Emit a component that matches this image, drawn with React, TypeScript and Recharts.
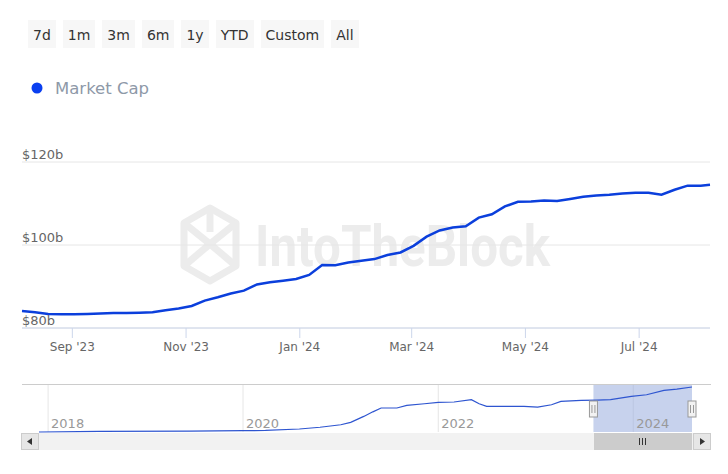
import React from 'react';
import {
  LineChart, Line, XAxis, YAxis, CartesianGrid, ReferenceArea, ReferenceLine,
} from 'recharts';

const FONT = '"DejaVu Sans", Verdana, sans-serif';

const RANGE_BUTTONS = ['7d', '1m', '3m', '6m', '1y', 'YTD', 'Custom', 'All'];
const SERIES_NAME = 'Market Cap';
const WATERMARK = 'IntoTheBlock';

// main chart: weekly readings, $ billions
const MAIN_DATES = [
  '2023-08-05', '2023-08-12', '2023-08-19', '2023-08-26',
  '2023-09-02', '2023-09-09', '2023-09-16', '2023-09-23', '2023-09-30',
  '2023-10-07', '2023-10-14', '2023-10-21', '2023-10-28',
  '2023-11-04', '2023-11-11', '2023-11-18', '2023-11-25',
  '2023-12-02', '2023-12-09', '2023-12-16', '2023-12-23', '2023-12-30',
  '2024-01-06', '2024-01-13', '2024-01-20', '2024-01-27',
  '2024-02-03', '2024-02-10', '2024-02-17', '2024-02-24',
  '2024-03-02', '2024-03-09', '2024-03-16', '2024-03-23', '2024-03-30',
  '2024-04-06', '2024-04-13', '2024-04-20', '2024-04-27',
  '2024-05-04', '2024-05-11', '2024-05-18', '2024-05-25',
  '2024-06-01', '2024-06-08', '2024-06-15', '2024-06-22', '2024-06-29',
  '2024-07-06', '2024-07-13', '2024-07-20', '2024-07-27',
  '2024-08-03', '2024-08-08',
];
const MAIN_VALUES = [
  84.1, 83.8, 83.4, 83.3,
  83.3, 83.4, 83.5, 83.6, 83.6,
  83.7, 83.8, 84.3, 84.7,
  85.3, 86.6, 87.4, 88.3,
  89.0, 90.5, 91.0, 91.4, 91.8,
  92.8, 95.2, 95.1, 95.8,
  96.2, 96.6, 97.6, 98.2,
  99.8, 102.0, 103.5, 104.2, 104.5,
  106.6, 107.4, 109.3, 110.4,
  110.5, 110.7, 110.6, 111.1,
  111.6, 111.9, 112.1, 112.4, 112.6,
  112.6, 112.1, 113.3, 114.3,
  114.3, 114.5,
];
const MAIN_TICKS = ['2023-09-01', '2023-11-01', '2024-01-01', '2024-03-01', '2024-05-01', '2024-07-01'];
const Y_TICKS = [80, 100, 120];

// navigator: full history, $ billions
const NAV_DATES = [
  '2017-11-28', '2018-07-10', '2019-06-15', '2020-01-01', '2020-03-25', '2020-07-30',
  '2020-10-15', '2021-01-01', '2021-02-07', '2021-03-28', '2021-05-01', '2021-06-01',
  '2021-07-30', '2021-09-05', '2021-11-10', '2022-01-01', '2022-03-01', '2022-05-05',
  '2022-06-03', '2022-07-01', '2022-09-05', '2022-11-18', '2023-01-08', '2023-03-01',
  '2023-04-05', '2023-06-20', '2023-08-18', '2023-10-08', '2023-12-25', '2024-02-20',
  '2024-04-25', '2024-06-12', '2024-08-08',
];
const NAV_VALUES = [
  1.3, 2.8, 3.3, 4.6, 5.3, 8.8,
  13.3, 19.6, 25.4, 40.5, 52.0, 61.6,
  61.6, 68.1, 72.4, 75.7, 76.7, 82.5,
  72.4, 65.6, 65.6, 65.6, 64.1, 69.9,
  78.2, 80.7, 81.5, 82.5, 90.7, 95.0,
  105.8, 109.3, 114.5,
];
const NAV_TICKS = ['2018-01-01', '2020-01-01', '2022-01-01', '2024-01-01'];

const MONTHS = ['Jan', 'Feb', 'Mar', 'Apr', 'May', 'Jun', 'Jul', 'Aug', 'Sep', 'Oct', 'Nov', 'Dec'];

const toTime = (s: string) => {
  const [y, m, d] = s.split('-').map(Number);
  return Date.UTC(y, m - 1, d);
};

const mainData = MAIN_DATES.map((d, i) => ({ t: toTime(d), v: MAIN_VALUES[i] }));
const navData = NAV_DATES.map((d, i) => ({ t: toTime(d), v: NAV_VALUES[i] }));
const mainStart = mainData[0].t;
const mainEnd = mainData[mainData.length - 1].t;

const fmtMonth = (t: number) => {
  const d = new Date(t);
  return `${MONTHS[d.getUTCMonth()]} '${String(d.getUTCFullYear()).slice(2)}`;
};

const renderYTick = ({ y, payload }: any) => (
  <text key={payload.value} x={22} y={y - 3} fill="#666" fontSize={13} fontFamily={FONT}>
    {`$${payload.value}b`}
  </text>
);

const renderNavTick = ({ x, payload }: any) => (
  <text key={payload.value} x={x + 3} y={428} fill="#999" fontSize={13} fontFamily={FONT}>
    {new Date(payload.value).getUTCFullYear()}
  </text>
);

const Handle = ({ viewBox }: any) => {
  if (!viewBox) return null;
  const x = viewBox.x;
  const cy = viewBox.y + viewBox.height / 2 + 1;
  return (
    <g>
      <rect x={x - 4} y={cy - 8} width={8} height={16} fill="#f2f2f2" stroke="#999" />
      <line x1={x - 1.5} x2={x - 1.5} y1={cy - 4} y2={cy + 4} stroke="#999" />
      <line x1={x + 1.5} x2={x + 1.5} y1={cy - 4} y2={cy + 4} stroke="#999" />
    </g>
  );
};

const Watermark = () => (
  <svg width={728} height={474} style={{ position: 'absolute', left: 0, top: 0 }}>
    <g fill="none" stroke="#ececec" strokeWidth={7} strokeLinejoin="round">
      <polygon points="210,208 236,223 236,266 210,281 184,266 184,223" />
      <polyline points="184,223 210,244 236,223" />
      <polyline points="184,266 210,244 236,266" />
      <line x1={210} y1={208} x2={210} y2={232} />
    </g>
    <text x={255} y={266} fontSize={58} fontWeight="bold" fill="#ececec"
      fontFamily='Roboto, "DejaVu Sans", sans-serif' textLength={295} lengthAdjust="spacingAndGlyphs">
      {WATERMARK}
    </text>
  </svg>
);

export default function App() {
  return (
    <div style={{ position: 'absolute', left: 0, top: 0, width: 728, height: 474, background: '#fff', fontFamily: FONT }}>
      <div style={{ position: 'absolute', left: 28, top: 20, display: 'flex', gap: 7 }}>
        {RANGE_BUTTONS.map((b) => (
          <div key={b} style={{
            background: '#f7f7f7', color: '#333', fontSize: 14, height: 28, lineHeight: '30px',
            padding: '0 5px',
          }}>{b}</div>
        ))}
      </div>

      <svg width={728} height={120} style={{ position: 'absolute', left: 0, top: 0 }}>
        <circle cx={37} cy={88} r={5.5} fill="#0a3ff0" />
        <text x={55} y={94} fontSize={16.5} fill="#8e99a8" fontFamily={FONT}>{SERIES_NAME}</text>
      </svg>

      <Watermark />

      <div style={{ position: 'absolute', left: 0, top: 0 }}>
        <LineChart width={728} height={358} data={mainData}
          margin={{ top: 162, right: 18, left: 2, bottom: 0 }}>
          <CartesianGrid vertical={false} stroke="#e6e6e6" />
          <XAxis dataKey="t" type="number" domain={[mainStart, mainEnd]}
            ticks={MAIN_TICKS.map(toTime)} tickFormatter={fmtMonth} interval={0}
            height={30} tickSize={10} tickMargin={4}
            axisLine={{ stroke: '#ccd6eb' }} tickLine={{ stroke: '#ccd6eb' }}
            tick={{ fill: '#666', fontSize: 12, fontFamily: FONT }} />
          <YAxis type="number" domain={[80, 120]} ticks={Y_TICKS} width={20} interval={0}
            axisLine={false} tickLine={false} tick={renderYTick} />
          <Line type="linear" dataKey="v" stroke="#0b3fdc" strokeWidth={2.5}
            dot={false} isAnimationActive={false} />
        </LineChart>
      </div>

      <div style={{ position: 'absolute', left: 0, top: 0 }}>
        <LineChart width={728} height={474} data={navData}
          margin={{ top: 384, right: 36, left: 39, bottom: 22 }}>
          <CartesianGrid horizontal={false} stroke="#e6e6e6" syncWithTicks />
          <XAxis dataKey="t" type="number" domain={['dataMin', 'dataMax']}
            ticks={NAV_TICKS.map(toTime)} height={20} interval={0}
            axisLine={false} tickLine={false} tick={renderNavTick} />
          <YAxis type="number" domain={[1.3, 122]} hide />
          <ReferenceArea x1={mainStart} x2={mainEnd} fill="#8fa6dc" fillOpacity={0.5} stroke="none" />
          <Line type="linear" dataKey="v" stroke="#2e55d0" strokeWidth={1.2}
            dot={false} isAnimationActive={false} />
          <ReferenceLine x={mainStart} stroke="none" label={<Handle />} />
          <ReferenceLine x={mainEnd} stroke="none" label={<Handle />} />
        </LineChart>
      </div>

      <svg width={728} height={474} style={{ position: 'absolute', left: 0, top: 0, pointerEvents: 'none' }}>
        <line x1={22} x2={711} y1={384.5} y2={384.5} stroke="#cccccc" />
        <rect x={21} y={433} width={690} height={17} fill="#f2f2f2" />
        <rect x={21.5} y={433.5} width={17} height={16} fill="#e6e6e6" stroke="#cccccc" />
        <path d="M32,438 L27,441.5 L32,445 Z" fill="#333" />
        <rect x={693.5} y={433.5} width={17} height={16} fill="#e6e6e6" stroke="#cccccc" />
        <path d="M700,438 L705,441.5 L700,445 Z" fill="#333" />
        <rect x={594} y={433} width={98} height={17} fill="#cccccc" />
        <g stroke="#333">
          <line x1={639.5} x2={639.5} y1={438} y2={445} />
          <line x1={642.5} x2={642.5} y1={438} y2={445} />
          <line x1={645.5} x2={645.5} y1={438} y2={445} />
        </g>
      </svg>
    </div>
  );
}
